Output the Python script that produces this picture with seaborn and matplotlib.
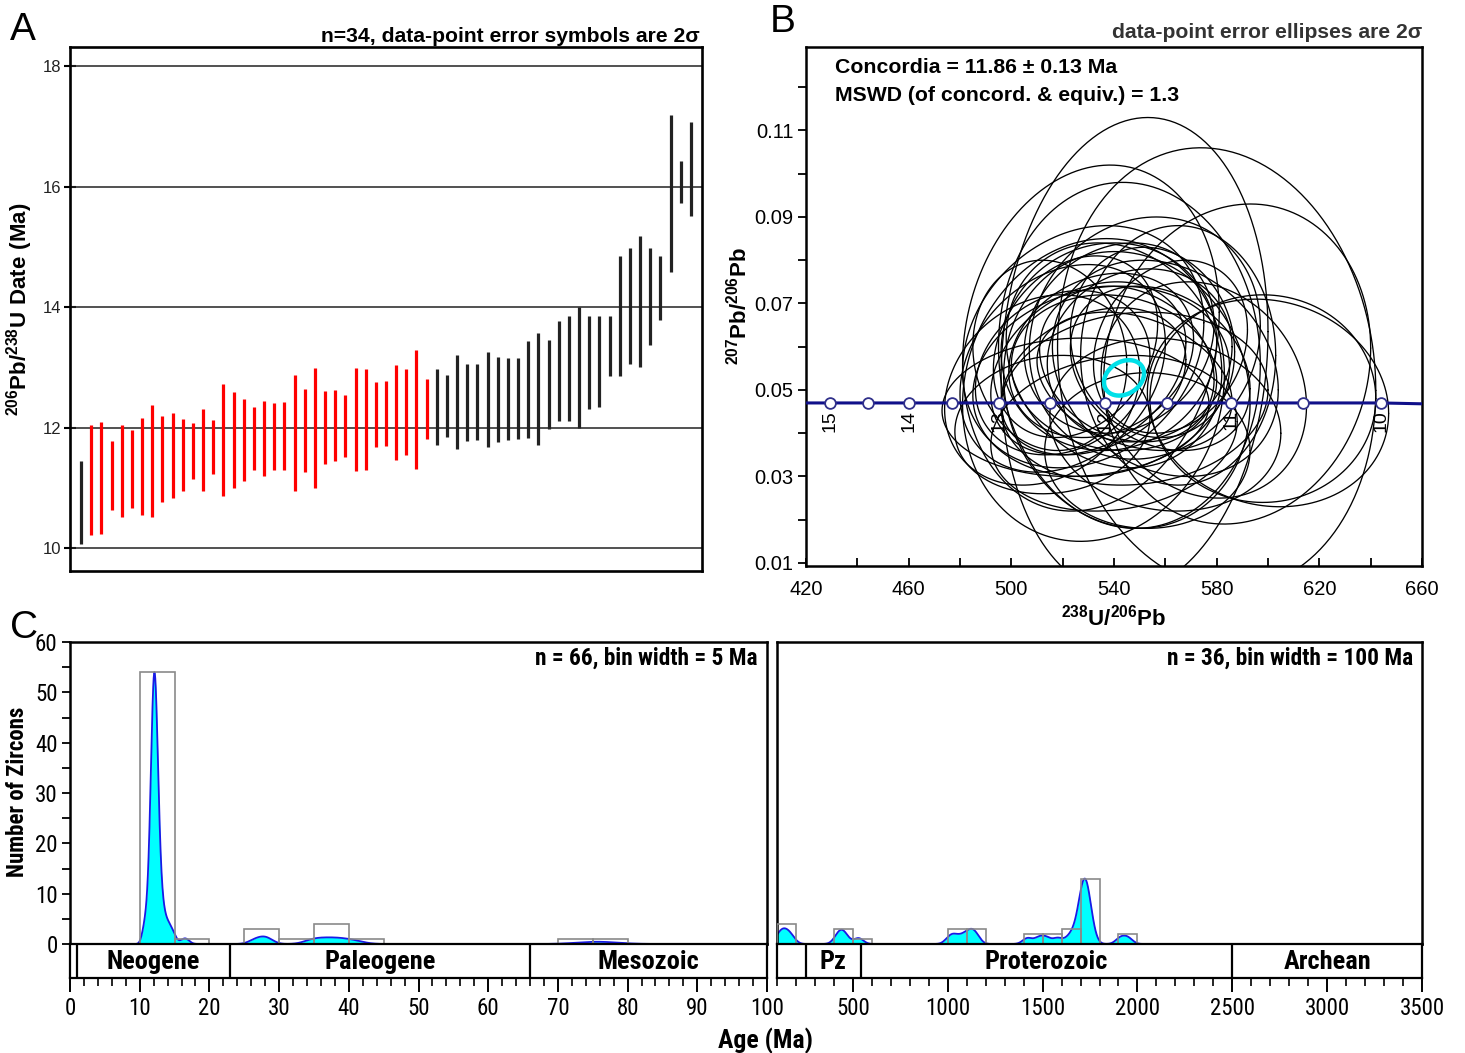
import matplotlib
matplotlib.use('Agg')
import matplotlib.pyplot as plt
from matplotlib import font_manager
import matplotlib.ticker as mticker
import seaborn as sns
import numpy as np
import pandas as pd

# ---------------- data ----------------
# A: 206Pb/238U dates, 2-sigma range of each grain (Ma), sorted
date_low = [10.07, 10.21, 10.23, 10.64, 10.51, 10.66, 10.55, 10.51, 10.77, 10.83,
            10.95, 11.14, 10.95, 11.23, 10.87, 10.99, 11.12, 11.30, 11.20, 11.30,
            11.29, 10.94, 11.26, 11.00, 11.39, 11.44, 11.51, 11.28, 11.30, 11.68,
            11.69, 11.47, 11.54, 11.31, 11.81, 11.71, 11.85, 11.64, 11.78, 11.80,
            11.68, 11.77, 11.79, 11.81, 11.83, 11.71, 11.98, 12.11, 12.11, 12.00,
            12.31, 12.35, 12.85, 12.86, 13.06, 13.01, 13.37, 13.79, 14.59, 15.73, 15.51]
date_high = [11.45, 12.04, 12.09, 11.78, 12.04, 11.96, 12.16, 12.37, 12.19, 12.25,
             12.15, 12.08, 12.31, 12.12, 12.72, 12.60, 12.48, 12.35, 12.45, 12.41,
             12.43, 12.88, 12.65, 12.99, 12.61, 12.62, 12.55, 12.99, 12.97, 12.76,
             12.77, 13.04, 12.98, 13.29, 12.81, 12.97, 12.88, 13.20, 13.06, 13.05,
             13.25, 13.18, 13.16, 13.16, 13.44, 13.57, 13.46, 13.77, 13.86, 14.00,
             13.86, 13.86, 13.86, 14.85, 14.99, 15.19, 14.98, 14.85, 17.19, 16.43, 17.08]
used_in_age = [0] + [1] * 34 + [0] * 26

# B: Tera-Wasserburg error ellipses (238U/206Pb, 207Pb/206Pb, half-axes, tilt)
ell_x = [548, 580, 531, 546, 588, 598, 532, 545,
         528, 540, 552, 520, 560, 535, 565, 512, 575, 548,
         535, 545, 530, 550, 540, 525, 558, 542, 532, 555, 520, 548, 538, 562, 515,
         553, 516, 600, 525, 560, 540]
ell_y = [0.058, 0.055, 0.062, 0.058, 0.056, 0.048, 0.050, 0.050,
         0.060, 0.058, 0.062, 0.055, 0.055, 0.052, 0.058, 0.050, 0.050, 0.048,
         0.058, 0.056, 0.055, 0.058, 0.054, 0.060, 0.055, 0.062, 0.052, 0.061, 0.054, 0.052,
         0.060, 0.060, 0.058,
         0.036, 0.042, 0.047, 0.046, 0.042, 0.040]
ell_a = [52, 62, 50, 51, 52, 44, 51, 48,
         47, 42, 45, 40, 44, 50, 38, 38, 40, 52,
         36, 34, 38, 36, 40, 32, 35, 37, 36, 32, 34, 38, 42, 30, 30,
         40, 38, 47, 52, 45, 48]
ell_b = [0.055, 0.051, 0.040, 0.040, 0.037, 0.024, 0.035, 0.032,
         0.028, 0.026, 0.028, 0.024, 0.025, 0.022, 0.030, 0.022, 0.025, 0.020,
         0.019, 0.018, 0.020, 0.020, 0.018, 0.021, 0.019, 0.022, 0.017, 0.022, 0.019, 0.016,
         0.024, 0.020, 0.022,
         0.018, 0.016, 0.024, 0.016, 0.020, 0.018]
ell_tilt = [0.10, -0.10, 0.15, -0.05, 0.10, 0.0, 0.10, -0.10,
            0.20, -0.15, 0.10, 0.25, -0.20, 0.15, 0.0, 0.20, -0.15, 0.10,
            0.20, -0.20, 0.30, 0.10, -0.10, 0.25, -0.25, 0.15, 0.30, -0.10, 0.20, -0.30,
            0.05, 0.20, -0.10,
            0.0, 0.10, -0.10, 0.05, -0.10, 0.15]

# concordia age ellipse
conc_ell = dict(x=543.9, y=0.0528, a=7.8, b=0.0041, tilt=0.25)

# concordia curve with 0.5 Ma markers
conc_age = [15, 14.5, 14, 13.5, 13, 12.5, 12, 11.5, 11, 10.5, 10]
conc_x = [429.3, 444.1, 460.0, 477.0, 495.2, 514.9, 536.6, 560.6, 585.4, 613.5, 644.1]
conc_y = [0.0470] * 11
curve_x = [420] + conc_x + [660]
curve_y = [0.0470] + conc_y + [0.0468]

# C: detrital zircon ages (Ma)
ages_young = [10.6, 10.9, 11.2, 11.4, 11.5, 11.6, 11.7, 11.7, 11.8, 11.8,
              11.9, 11.9, 11.9, 12.0, 12.0, 12.0, 12.0, 12.0, 12.1, 12.1,
              12.1, 12.1, 12.1, 12.1, 12.2, 12.2, 12.2, 12.2, 12.2, 12.3,
              12.3, 12.3, 12.3, 12.4, 12.4, 12.4, 12.5, 12.5, 12.6, 12.6,
              12.7, 12.8, 12.9, 13.0, 13.2, 13.4, 13.7, 14.0, 14.4, 14.8,
              12.0, 12.1, 12.2, 11.9,
              16.5, 26.5, 27.8, 28.3, 34.5, 35.8, 37.0, 38.2, 39.4, 41.0, 74.5, 76.8]
ages_old = [110, 130, 150, 175, 420, 440, 460, 530,
            1010, 1040, 1080, 1110, 1130, 1150, 1420, 1480, 1520, 1580,
            1640, 1670, 1690,
            1700, 1705, 1710, 1715, 1718, 1722, 1725, 1728, 1732, 1736, 1740, 1748, 1760,
            1910, 1950]
rel_err_young = 0.035   # 1-sigma kernel, fraction of age
abs_err_old = 25        # 1-sigma kernel, Ma

# geologic time scale boxes
ts_left_edges = [1.0, 23.0, 66.0]
ts_left_names = ['Neogene', 'Paleogene', 'Mesozoic']
ts_left_spans = [(1.0, 23.0), (23.0, 66.0), (66.0, 100.0)]
ts_right_edges = [252, 541, 2500]
ts_right_names = ['Pz', 'Proterozoic', 'Archean']
ts_right_spans = [(252, 541), (541, 2500), (2500, 3500)]

# ---------------- style ----------------
sns.set_style("ticks")
names = {f.name for f in font_manager.fontManager.ttflist}
narrow = 'Liberation Sans'
for cand in ['Liberation Sans Narrow', 'Roboto Condensed', 'Open Sans Condensed',
             'Noto Sans Condensed', 'DejaVu Sans Condensed']:
    if cand in names:
        narrow = cand
        break
plt.rcParams['font.family'] = ['Liberation Sans', 'DejaVu Sans']
plt.rcParams['mathtext.fontset'] = 'custom'
plt.rcParams['mathtext.rm'] = 'Liberation Sans'
plt.rcParams['mathtext.bf'] = 'Liberation Sans:bold'
for key in ['axes.edgecolor', 'xtick.color', 'ytick.color', 'text.color', 'axes.labelcolor']:
    plt.rcParams[key] = 'black'
NF = [narrow, 'DejaVu Sans']

W, H = 1465, 1053
fig = plt.figure(figsize=(W / 100, H / 100), dpi=100)


def box(l, t, r, b):
    return [l / W, 1 - b / H, (r - l) / W, (b - t) / H]


def fpos(x, y):
    return x / W, 1 - y / H


# ---------------- A ----------------
axA = fig.add_axes(box(70, 47, 702, 571))
dfA = pd.DataFrame({'i': np.arange(len(date_low)), 'low': date_low,
                    'high': date_high, 'used': used_in_age})
for yv in [10, 12, 14, 16, 18]:
    axA.axhline(yv, color='#222222', lw=1.1, zorder=1)
for used, col in [(1, '#ff0000'), (0, '#222222')]:
    d = dfA[dfA.used == used]
    axA.vlines(d.i, d.low, d.high, colors=col, lw=2.3, zorder=2)
axA.set_xlim(-1.1, 61.1)
axA.set_ylim(9.62, 18.32)
axA.set_xticks([])
axA.set_yticks([10, 12, 14, 16, 18])
axA.tick_params(axis='y', direction='inout', length=9, width=1.5, labelsize=12, pad=2,
                labelcolor='#222222')
for s in axA.spines.values():
    s.set_linewidth(1.9)
axA.set_ylabel(r'$\mathbf{^{206}Pb/^{238}U\ Date\ (Ma)}$', fontsize=16, labelpad=5)
fig.text(*fpos(700, 36), 'n=34, data-point error symbols are 2σ', ha='right', va='center',
         fontsize=15.2, fontweight='bold')
fig.text(*fpos(10, 30), 'A', ha='left', va='center', fontsize=28)

# ---------------- B ----------------
axB = fig.add_axes(box(806, 47, 1422, 566))
t = np.linspace(0, 2 * np.pi, 300)
for cx, cy, a, b, d in zip(ell_x, ell_y, ell_a, ell_b, ell_tilt):
    axB.plot(cx + a * np.cos(t), cy + b * np.sin(t + d), color='black', lw=0.95, zorder=2)
sns.lineplot(x=curve_x, y=curve_y, ax=axB, color='#10108a', lw=2.2, sort=False, zorder=3)
sns.scatterplot(x=conc_x, y=conc_y, ax=axB, s=60, color='white', edgecolor='#30308a',
                linewidth=1.3, zorder=4)
for age, cx, cy in zip(conc_age, conc_x, conc_y):
    if float(age).is_integer():
        axB.text(cx, cy - 0.0016, str(int(age)), rotation=90, ha='center', va='top',
                 fontsize=14, zorder=5)
axB.plot(conc_ell['x'] + conc_ell['a'] * np.cos(t),
         conc_ell['y'] + conc_ell['b'] * np.sin(t + conc_ell['tilt']),
         color='#00e0e8', lw=3.2, zorder=6)
axB.set_xlim(420, 660)
axB.set_ylim(0.0093, 0.1293)
axB.set_xticks(np.arange(420, 661, 40))
axB.xaxis.set_minor_locator(mticker.MultipleLocator(20))
yt = np.round(np.arange(0.01, 0.121, 0.01), 2)
axB.set_yticks(yt)
axB.set_yticklabels([f'{v:.2f}' if i % 2 == 0 else '' for i, v in enumerate(yt)])
axB.tick_params(axis='x', which='both', direction='in', length=6, width=1.3,
                labelsize=14.5, pad=10)
axB.tick_params(axis='y', direction='out', length=6, width=1.3, labelsize=14.5, pad=3)
for s in axB.spines.values():
    s.set_linewidth(1.8)
axB.set_xlabel(r'$\mathbf{^{238}U/^{206}Pb}$', fontsize=16, labelpad=4)
axB.set_ylabel(r'$\mathbf{^{207}Pb/^{206}Pb}$', fontsize=16, labelpad=2)
axB.text(0.047, 0.96, 'Concordia = 11.86 ± 0.13 Ma', transform=axB.transAxes,
         fontsize=15.3, fontweight='bold', va='center')
axB.text(0.047, 0.907, 'MSWD (of concord. & equiv.) = 1.3', transform=axB.transAxes,
         fontsize=15.3, fontweight='bold', va='center')
fig.text(*fpos(1422, 33), 'data-point error ellipses are 2σ', ha='right', va='center',
         fontsize=15.2, fontweight='bold', color='#333333')
fig.text(*fpos(770, 22), 'B', ha='left', va='center', fontsize=28)


# ---------------- C ----------------
def pdp(grid, ages, sig):
    ages = np.asarray(ages, float)
    sig = np.asarray(sig, float)
    return (np.exp(-0.5 * ((grid[:, None] - ages[None, :]) / sig[None, :]) ** 2)
            / sig[None, :]).sum(axis=1)


def hist_panel(rect, band_rect, ages, binwidth, lo, hi, sig, label, spans, edges, names_,
               major, minor, show_y, tick_labels):
    ax = fig.add_axes(rect)
    grid = np.linspace(lo, hi, 3000)
    dens = pdp(grid, ages, sig)
    counts, _ = np.histogram(ages, bins=np.arange(lo, hi + binwidth, binwidth))
    dens = dens / dens.max() * counts.max()
    ax.fill_between(grid, 0, dens, color='#00ffff', lw=0, zorder=1)
    ax.plot(grid, dens, color='#1a1ae6', lw=1.3, zorder=2)
    sns.histplot(x=ages, binwidth=binwidth, binrange=(lo, hi), fill=False,
                 color='#8a8a8a', linewidth=1.2, ax=ax, zorder=3)
    ax.set_xlim(lo, hi)
    ax.set_ylim(0, 60)
    ax.set_xticks([])
    ax.set_xlabel('')
    ax.set_ylabel('')
    if show_y:
        ax.set_yticks(np.arange(0, 61, 10))
        ax.yaxis.set_minor_locator(mticker.MultipleLocator(5))
        ax.tick_params(axis='y', which='both', direction='out', length=6, width=1.3,
                       labelsize=16.5, pad=3)
        for lab in ax.get_yticklabels():
            lab.set_family(NF)
    else:
        ax.set_yticks([])
    for s in ax.spines.values():
        s.set_linewidth(1.8)
    ax.text(0.986, 0.947, label, transform=ax.transAxes, ha='right', va='center',
            fontsize=16.8, fontweight='bold', family=NF)

    bx = fig.add_axes(band_rect)
    bx.set_xlim(lo, hi)
    bx.set_ylim(0, 1)
    bx.set_yticks([])
    for e in edges:
        bx.axvline(e, color='black', lw=1.6)
    for (a, b), n in zip(spans, names_):
        bx.text((a + b) / 2, 0.47, n, ha='center', va='center', fontsize=19,
                fontweight='bold', family=NF)
    bx.set_xticks(major)
    bx.set_xticklabels(tick_labels)
    bx.xaxis.set_minor_locator(mticker.MultipleLocator(minor))
    bx.tick_params(axis='x', which='major', direction='out', length=10, width=1.4,
                   labelsize=16.5, pad=4)
    bx.tick_params(axis='x', which='minor', direction='out', length=6, width=1.2)
    for lab in bx.get_xticklabels():
        lab.set_family(NF)
    for s in bx.spines.values():
        s.set_linewidth(1.6)
    return ax, bx


sig_young = [rel_err_young * a for a in ages_young]
sig_old = [abs_err_old] * len(ages_old)
hist_panel(box(70, 642, 767, 944), box(70, 944, 767, 978), ages_young, 5, 0, 100, sig_young,
           'n = 66, bin width = 5 Ma', ts_left_spans, ts_left_edges, ts_left_names,
           np.arange(0, 101, 10), 2, True, [str(v) for v in range(0, 101, 10)])
hist_panel(box(777, 642, 1422, 944), box(777, 944, 1422, 978), ages_old, 100, 100, 3500,
           sig_old, 'n = 36, bin width = 100 Ma', ts_right_spans, ts_right_edges,
           ts_right_names, np.arange(500, 3501, 500), 100, False,
           [str(v) for v in range(500, 3501, 500)])

fig.text(*fpos(765, 1041), 'Age (Ma)', ha='center', va='center', fontsize=18.5,
         fontweight='bold', family=NF)
fig.text(*fpos(18, 792), 'Number of Zircons', ha='center', va='center', rotation=90,
         fontsize=16.5, fontweight='bold', family=NF)
fig.text(*fpos(10, 628), 'C', ha='left', va='center', fontsize=28)

fig.savefig('out.png', dpi=100)
